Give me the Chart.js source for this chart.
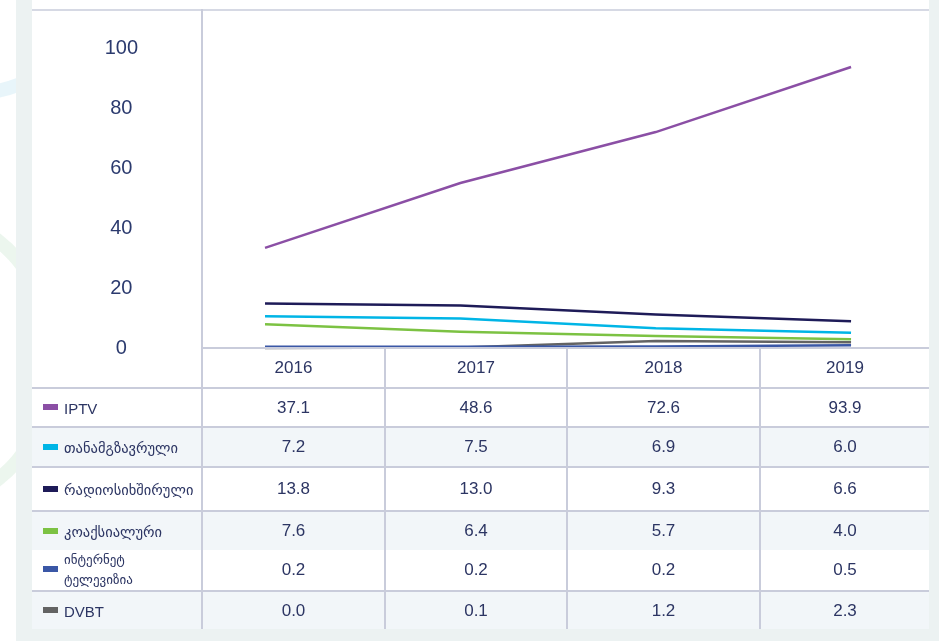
<!DOCTYPE html>
<html>
<head>
<meta charset="utf-8">
<script src="https://cdn.jsdelivr.net/npm/chart.js@4.4.1/dist/chart.umd.min.js"></script>
<style>
  html, body { margin:0; padding:0; }
  body { width:939px; height:641px; position:relative; overflow:hidden; background:#ffffff;
         font-family:"Liberation Sans", Arial, "DejaVu Sans", sans-serif; }
  .strip { position:absolute; background:#ecf2f2; }
  .arc { position:absolute; border-radius:50%; box-sizing:border-box; }
  #panel { position:absolute; left:32px; top:0; width:897px; height:627px; background:#fff; }
  #topline { position:absolute; left:32px; top:9px; width:897px; height:2px; background:#d6d9e4; }
  #c { position:absolute; left:32px; top:0; }
  table { position:absolute; left:32px; top:347px; width:897px; border-collapse:collapse; table-layout:fixed; }
  td { padding:0; text-align:center; color:#2c3563; font-size:17px; border-left:2px solid #c9ccdb; border-top:2px solid #c9ccdb; }
  td.lab { text-align:left; border-left:none; font-size:15px; color:#2c3563; white-space:nowrap; }
  td.corner { border-top:none; }
  tr.nb td { border-top:none; }
  tr.alt td { background:#f2f6f9; }
  tr.w td { background:#ffffff; }
  .sw { display:inline-block; width:15px; height:6px; margin-left:11px; margin-right:6px; vertical-align:middle; position:relative; top:-1px; }
  .ka { font-family:"DejaVu Sans", sans-serif; font-size:14.5px; }
  .two { display:inline-block; vertical-align:middle; line-height:20px; font-family:"DejaVu Sans", sans-serif; font-size:13px; }
</style>
</head>
<body>
<div class="arc" style="left:-150px;top:-150px;width:250px;height:250px;border:14px solid rgba(190,225,240,0.35);"></div>
<div class="arc" style="left:-200px;top:210px;width:260px;height:300px;border:14px solid rgba(200,230,205,0.35);"></div>
<div class="strip" style="left:16px;top:0;width:16px;height:641px;"></div>
<div class="strip" style="left:929px;top:0;width:10px;height:641px;"></div>
<div class="strip" style="left:16px;top:627px;width:923px;height:14px;"></div>
<div id="panel"></div>
<div id="topline"></div>
<canvas id="c" width="897" height="372"></canvas>
<table id="tbl"></table>
<script>
// ---- data ----
const YEARS = ["2016", "2017", "2018", "2019"];
const SERIES_NAMES = ["IPTV", "თანამგზავრული", "რადიოსიხშირული", "კოაქსიალური", "ინტერნეტ ტელევიზია", "DVBT"];
const SERIES_COLORS = ["#8b4fa5", "#00b5e6", "#1e1b58", "#7cc243", "#3a57a6", "#636363"];
// values printed in the table
const TABLE_IPTV = [37.1, 48.6, 72.6, 93.9];
const TABLE_SAT = [7.2, 7.5, 6.9, 6.0];
const TABLE_RADIO = [13.8, 13.0, 9.3, 6.6];
const TABLE_COAX = [7.6, 6.4, 5.7, 4.0];
const TABLE_NET = [0.2, 0.2, 0.2, 0.5];
const TABLE_DVBT = [0.0, 0.1, 1.2, 2.3];
// values as drawn by the lines in the picture
const LINE_IPTV = [33.4, 55.0, 72.0, 93.7];
const LINE_SAT = [10.6, 9.8, 6.6, 5.1];
const LINE_RADIO = [14.8, 14.2, 11.2, 8.9];
const LINE_COAX = [7.9, 5.4, 4.0, 2.9];
const LINE_NET = [0.4, 0.4, 0.5, 0.9];
const LINE_DVBT = [0.0, 0.2, 2.3, 1.9];
const Y_TICKS = [0, 20, 40, 60, 80, 100];

const TABLE_ROWS = [TABLE_IPTV, TABLE_SAT, TABLE_RADIO, TABLE_COAX, TABLE_NET, TABLE_DVBT];
const LINE_ROWS = [LINE_IPTV, LINE_SAT, LINE_RADIO, LINE_COAX, LINE_NET, LINE_DVBT];

// ---- chart ----
const datasets = LINE_ROWS.map((vals, i) => ({
  label: SERIES_NAMES[i],
  data: vals.map((v, j) => ({ x: j, y: v })),
  borderColor: SERIES_COLORS[i],
  backgroundColor: SERIES_COLORS[i],
  borderWidth: 2.5,
  pointRadius: 0,
  tension: 0,
  clip: false
}));

new Chart(document.getElementById('c'), {
  type: 'line',
  data: { datasets },
  options: {
    responsive: false,
    animation: false,
    devicePixelRatio: 1,
    layout: { padding: { top: 10, right: 0, bottom: 24, left: 0 } },
    plugins: { legend: { display: false }, tooltip: { enabled: false } },
    scales: {
      x: { type: 'linear', min: -0.3226, max: 3.399, display: false },
      y: {
        type: 'linear', min: 0, max: 112.7,
        afterBuildTicks: (axis) => { axis.ticks = Y_TICKS.map(v => ({ value: v })); },
        afterFit: (axis) => { axis.width = 170; axis.paddingTop = 0; axis.paddingBottom = 0; },
        grid: { display: false, drawTicks: false },
        border: { display: true, color: '#c9ccdb', width: 2 },
        ticks: {
          crossAlign: 'center', padding: 64,
          color: '#2b3a6e', font: { size: 20, family: '"Liberation Sans", Arial, sans-serif' }
        }
      }
    }
  }
});

// ---- table ----
const tbl = document.getElementById('tbl');
const colW = [170, 183, 182, 193, 169];
const rowH = [40, 39, 40, 44, 39, 39, 38];
let html = '<colgroup>' + colW.map(w => `<col style="width:${w}px">`).join('') + '</colgroup>';
html += `<tr style="height:${rowH[0]}px"><td class="lab corner"></td>` + YEARS.map(y => `<td>${y}</td>`).join('') + '</tr>';
TABLE_ROWS.forEach((vals, i) => {
  const cls = [];
  cls.push(i % 2 === 1 ? 'alt' : 'w');
  if (i === 4) cls.push('nb');
  let name = SERIES_NAMES[i];
  let labelHtml;
  if (i === 4) {
    const parts = name.split(' ');
    labelHtml = `<span class="two">${parts[0]}<br>${parts[1]}</span>`;
  } else if (/^[A-Z]/.test(name)) {
    labelHtml = `<span style="vertical-align:middle">${name}</span>`;
  } else {
    labelHtml = `<span class="ka" style="vertical-align:middle">${name}</span>`;
  }
  html += `<tr class="${cls.join(' ')}" style="height:${rowH[i + 1]}px"><td class="lab"><span class="sw" style="background:${SERIES_COLORS[i]}"></span>${labelHtml}</td>` +
    vals.map(v => `<td>${v.toFixed(1)}</td>`).join('') + '</tr>';
});
tbl.innerHTML = html;
</script>
</body>
</html>
